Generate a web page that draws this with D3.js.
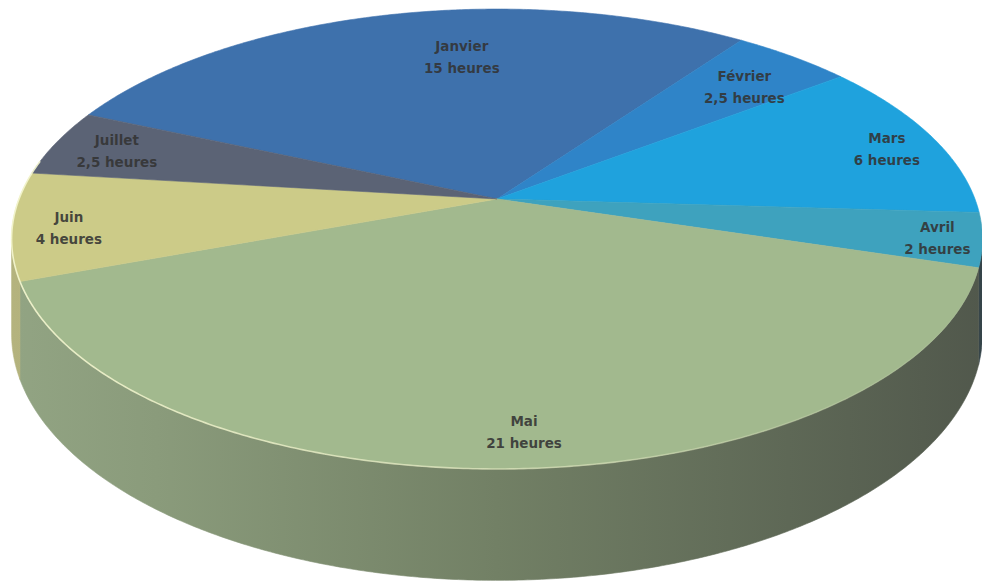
<!DOCTYPE html>
<html>
<head>
<meta charset="utf-8">
<script src="https://cdn.jsdelivr.net/npm/d3@7"></script>
<style>
  html, body { margin: 0; padding: 0; background: #ffffff; overflow: hidden; }
  svg { display: block; }
</style>
</head>
<body>
<svg id="chart" width="982" height="583"></svg>
<script>
// Heures par mois
const months = ["Janvier", "Février", "Mars", "Avril", "Mai", "Juin", "Juillet"];
const hours = [15, 2.5, 6, 2, 21, 4, 2.5];
const unit = "heures";
const sliceColors = ["#3e71ac", "#2f84c8", "#1fa2dd", "#3ea2be", "#a2b98e", "#cccb88", "#5b6375"];

// ---- layout of the tilted disc ----
const CX = 497, CY = 199;         // projected centre of the disc
const RX = 478, RY = 223;         // radii of the projected disc
const PERSP = 0.174;              // perspective strength (near side larger)
const DEPTH = 92;                 // thickness of the disc
const START = -66.2 * Math.PI / 180;
const VIS = Math.acos(-PERSP);    // angle of the side silhouette

// label anchor: [radius fraction, position along the slice]
const labelPlace = {
  "Janvier": [0.72, 0.585], "Février": [0.79, 0.6], "Mars": [0.88, 0.54],
  "Avril": [0.91, 0.53], "Mai": [0.885, 0.49], "Juin": [0.885, 0.45], "Juillet": [0.856, 0.49]
};

const fr = d3.formatLocale({ decimal: ",", thousands: " ", grouping: [3], currency: ["", " €"] });
const fmt = fr.format("~g");

const data = months.map((m, i) => ({ month: m, value: hours[i], color: sliceColors[i] }));
const arcs = d3.pie().sort(null).value(d => d.value)
  .startAngle(START).endAngle(START + 2 * Math.PI)(data);

// project a point of the disc (angle a, radius fraction r, height h: 0 top, 1 bottom)
function project(a, r, h) {
  const u = r * Math.sin(a), v = -r * Math.cos(a);
  const w = 1 - PERSP * v;
  return [CX + RX * u / w, CY + (RY * v + DEPTH * h) / w];
}
function rim(a0, a1, h) {
  const n = Math.max(6, Math.ceil(Math.abs(a1 - a0) / 0.008));
  return d3.range(n + 1).map(i => project(a0 + (a1 - a0) * i / n, 1, h));
}
const line = d3.line();

const svg = d3.select("#chart");
const defs = svg.append("defs");

// side wall shading, lit from the left, greyer and darker to the right
const shade = [[0, 0.9, 0.65], [0.15, 0.85, 0.6], [0.5, 0.7, 0.5], [0.8, 0.58, 0.4], [1, 0.5, 0.3]];
arcs.forEach((d, i) => {
  const base = d3.hsl(d.data.color);
  const g = defs.append("linearGradient").attr("id", "wall" + i)
    .attr("gradientUnits", "userSpaceOnUse")
    .attr("x1", CX - RX - 8).attr("x2", CX + RX + 8).attr("y1", 0).attr("y2", 0);
  shade.forEach(([o, kl, ks]) => {
    const c = d3.hsl(base.h, base.s * ks, base.l * kl);
    g.append("stop").attr("offset", o).attr("stop-color", c.formatHex());
  });
});

// front rim highlight
const hl = defs.append("linearGradient").attr("id", "rimlight")
  .attr("gradientUnits", "userSpaceOnUse")
  .attr("x1", CX - RX).attr("x2", CX + RX).attr("y1", 0).attr("y2", 0);
hl.append("stop").attr("offset", 0).attr("stop-color", "#f4f6cf").attr("stop-opacity", 0.9);
hl.append("stop").attr("offset", 0.55).attr("stop-color", "#f4f6cf").attr("stop-opacity", 0.5);
hl.append("stop").attr("offset", 1).attr("stop-color", "#f4f6cf").attr("stop-opacity", 0.0);

const gWall = svg.append("g");
const gTop = svg.append("g");
const gLab = svg.append("g");

// side walls: only the part facing the viewer
arcs.forEach((d, i) => {
  const a0 = Math.max(d.startAngle, VIS), a1 = Math.min(d.endAngle, 2 * Math.PI - VIS);
  if (a1 <= a0) return;
  const pts = rim(a0, a1, 0).concat(rim(a1, a0, 1));
  gWall.append("path")
    .attr("d", line(pts) + "Z")
    .attr("fill", `url(#wall${i})`)
    .attr("stroke", `url(#wall${i})`).attr("stroke-width", 0.6);
});

// top faces
arcs.forEach(d => {
  const pts = [project(0, 0, 0)].concat(rim(d.startAngle, d.endAngle, 0));
  gTop.append("path")
    .attr("d", line(pts) + "Z")
    .attr("fill", d.data.color)
    .attr("stroke", d.data.color).attr("stroke-width", 0.6)
    .attr("stroke-linejoin", "round");
});

gTop.append("path")
  .attr("d", line(rim(VIS - 0.25, 2 * Math.PI - VIS + 0.35, 0)))
  .attr("fill", "none")
  .attr("stroke", "url(#rimlight)")
  .attr("stroke-width", 1.6);

// labels
arcs.forEach(d => {
  const [r, t] = labelPlace[d.data.month];
  const p = project(d.startAngle + (d.endAngle - d.startAngle) * t, r, 0);
  const txt = gLab.append("text")
    .attr("x", p[0]).attr("y", p[1])
    .attr("text-anchor", "middle")
    .attr("font-family", "'DejaVu Sans', sans-serif")
    .attr("font-weight", "bold")
    .attr("font-size", 13.5)
    .attr("fill", "#333333")
    .attr("fill-opacity", 0.88);
  txt.append("tspan").attr("x", p[0]).attr("y", p[1] - 6).text(d.data.month);
  txt.append("tspan").attr("x", p[0]).attr("y", p[1] + 16).text(`${fmt(d.data.value)} ${unit}`);
});
</script>
</body>
</html>
